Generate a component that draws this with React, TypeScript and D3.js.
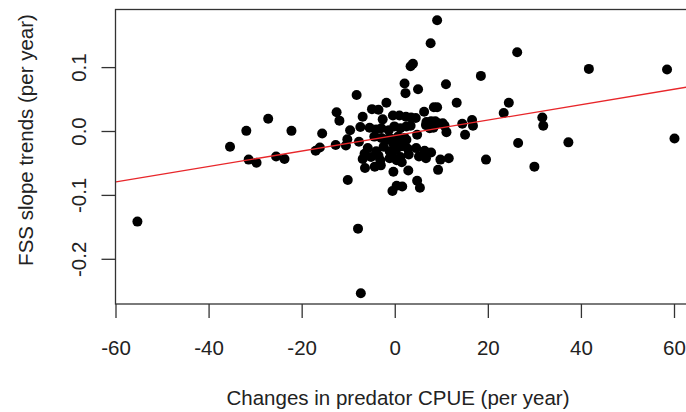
import * as d3 from 'd3';

// predator CPUE change (per year) vs FSS slope trend (per year)
const cpueChange: number[] = [
  9.0, 7.6, 26.2, 3.3, 3.8, 41.6, 58.4, 18.4, 2.0, 10.9, 4.9, 2.2, -8.3, -1.9, 13.2, 24.4,
  -12.6, 23.3, -12.0, -27.3, -32.0, -22.3, -15.7, -35.5, -31.5, -29.8, -25.6, -23.8, -17.1, -16.2,
  -12.8, -10.6, -9.7, -10.3, -7.8, -10.2, -6.5, -4.4, -3.1, -0.4, 2.8, -0.6, 0.3, 1.5, 4.7, 5.3,
  9.2, 9.7, 11.5, 19.5, 26.4, 29.9, 37.2, 31.6, 31.8, 60.0, -55.4, -8.0, -7.4, 14.4, 16.5, 16.7,
  15.0, 11.0, 8.3, 9.0, 6.2, 6.6, 8.2, 9.2, 10.6, 4.7,
  -5.0, -3.6, -7.0, -2.7, -0.5, 0.9, 2.3, 3.4, 4.4, 6.7, 7.7, 8.6, 10.2,
  -7.5, -5.5, -4.1, -3.0, -1.4, -0.2, 1.1, 2.4, 3.3, 7.4,
  -4.5, -3.0, -1.2, 0.6, 2.0, -1.9, -0.5, 0.9, 2.4,
  -5.9, -4.1, -2.5, -1.2, 0.2, 1.4, 2.7, 4.5, 6.3, 7.7,
  -6.6, -3.6, -0.7, 1.1, 2.9, 5.1, 6.6,
  -7.0, -5.2, -3.2, -1.2, 0.3, 1.4,
];
const fssTrend: number[] = [
  0.174, 0.138, 0.124, 0.102, 0.106, 0.098, 0.097, 0.087, 0.075, 0.074, 0.066, 0.060, 0.057, 0.045, 0.045, 0.045,
  0.030, 0.029, 0.017, 0.020, 0.001, 0.001, -0.003, -0.024, -0.044, -0.049, -0.039, -0.043, -0.030, -0.025,
  -0.021, -0.022, 0.002, -0.012, -0.016, -0.076, -0.057, -0.055, -0.053, -0.063, -0.061, -0.093, -0.085, -0.086, -0.077, -0.088,
  -0.060, -0.044, -0.042, -0.044, -0.018, -0.055, -0.017, 0.022, 0.009, -0.011, -0.141, -0.152, -0.253, 0.012, 0.018, 0.009,
  -0.005, -0.001, 0.038, 0.038, 0.031, 0.010, 0.006, 0.013, 0.009, -0.005,
  0.035, 0.034, 0.023, 0.019, 0.025, 0.025, 0.023, 0.022, 0.021, 0.015, 0.016, 0.016, 0.013,
  0.007, 0.006, 0.003, 0.005, 0.002, 0.008, 0.005, 0.008, 0.009, 0.005,
  -0.008, -0.010, -0.010, -0.008, -0.010, -0.013, -0.018, -0.016, -0.013,
  -0.026, -0.031, -0.024, -0.031, -0.028, -0.023, -0.027, -0.026, -0.030, -0.033,
  -0.035, -0.038, -0.037, -0.040, -0.036, -0.039, -0.042,
  -0.043, -0.040, -0.045, -0.042, -0.045, -0.048,
];

const xTicks = [-60, -40, -20, 0, 20, 40, 60];
const yTicks = [-0.2, -0.1, 0.0, 0.1];

// fitted regression line (intercept, slope)
const fitIntercept = -0.0063;
const fitSlope = 0.00121;

const W = 686;
const H = 412;
const box = { left: 115.5, top: 9.5, right: 700, bottom: 304 };

export default function App() {
  const x = d3.scaleLinear().domain([-60, 60]).range([116, 674.5]);
  const y = d3.scaleLinear().domain([-0.2, 0.1]).range([259.3, 67.6]);

  const points = cpueChange.map((cx, i) => ({ cx, cy: fssTrend[i] }));
  const lineX = [-60, 66];
  const fitLine = d3
    .line<number>()
    .x((d) => x(d))
    .y((d) => y(fitIntercept + fitSlope * d))(lineX);

  const font = '"Liberation Sans", Arial, Helvetica, sans-serif';
  const textCol = '#222';
  const axisCol = '#333';
  const fs = 20.5;

  return (
    <svg
      width={W}
      height={H}
      style={{ position: 'absolute', left: 0, top: 0, background: '#fff' }}
      fontFamily={font}
    >
      <defs>
        <clipPath id="plot-clip">
          <rect x={box.left} y={box.top} width={box.right - box.left} height={box.bottom - box.top} />
        </clipPath>
      </defs>

      {/* points */}
      <g fill="#000">
        {points.map((p, i) => (
          <circle key={i} cx={x(p.cx)} cy={y(p.cy)} r={5} />
        ))}
      </g>

      {/* fit line */}
      <path d={fitLine ?? ''} stroke="#e8262a" strokeWidth={1.3} fill="none" clipPath="url(#plot-clip)" />

      {/* box */}
      <rect
        x={box.left}
        y={box.top}
        width={box.right - box.left}
        height={box.bottom - box.top}
        fill="none"
        stroke={axisCol}
        strokeWidth={1.3}
      />

      {/* x axis ticks + labels */}
      {xTicks.map((t) => (
        <g key={t}>
          <line x1={x(t)} x2={x(t)} y1={box.bottom} y2={box.bottom + 14} stroke={axisCol} strokeWidth={1.3} />
          <text x={x(t)} y={355} textAnchor="middle" fontSize={fs} fill={textCol}>
            {t}
          </text>
        </g>
      ))}

      {/* y axis ticks + labels */}
      {yTicks.map((t) => (
        <g key={t}>
          <line x1={box.left - 14} x2={box.left} y1={y(t)} y2={y(t)} stroke={axisCol} strokeWidth={1.3} />
          <text
            transform={`translate(86,${y(t)}) rotate(-90)`}
            textAnchor="middle"
            fontSize={fs}
            fill={textCol}
          >
            {t.toFixed(1)}
          </text>
        </g>
      ))}

      {/* axis titles */}
      <text x={398} y={405} textAnchor="middle" fontSize={fs} fill={textCol}>
        Changes in predator CPUE (per year)
      </text>
      <text transform="translate(33,140) rotate(-90)" textAnchor="middle" fontSize={fs} fill={textCol}>
        FSS slope trends (per year)
      </text>
    </svg>
  );
}
